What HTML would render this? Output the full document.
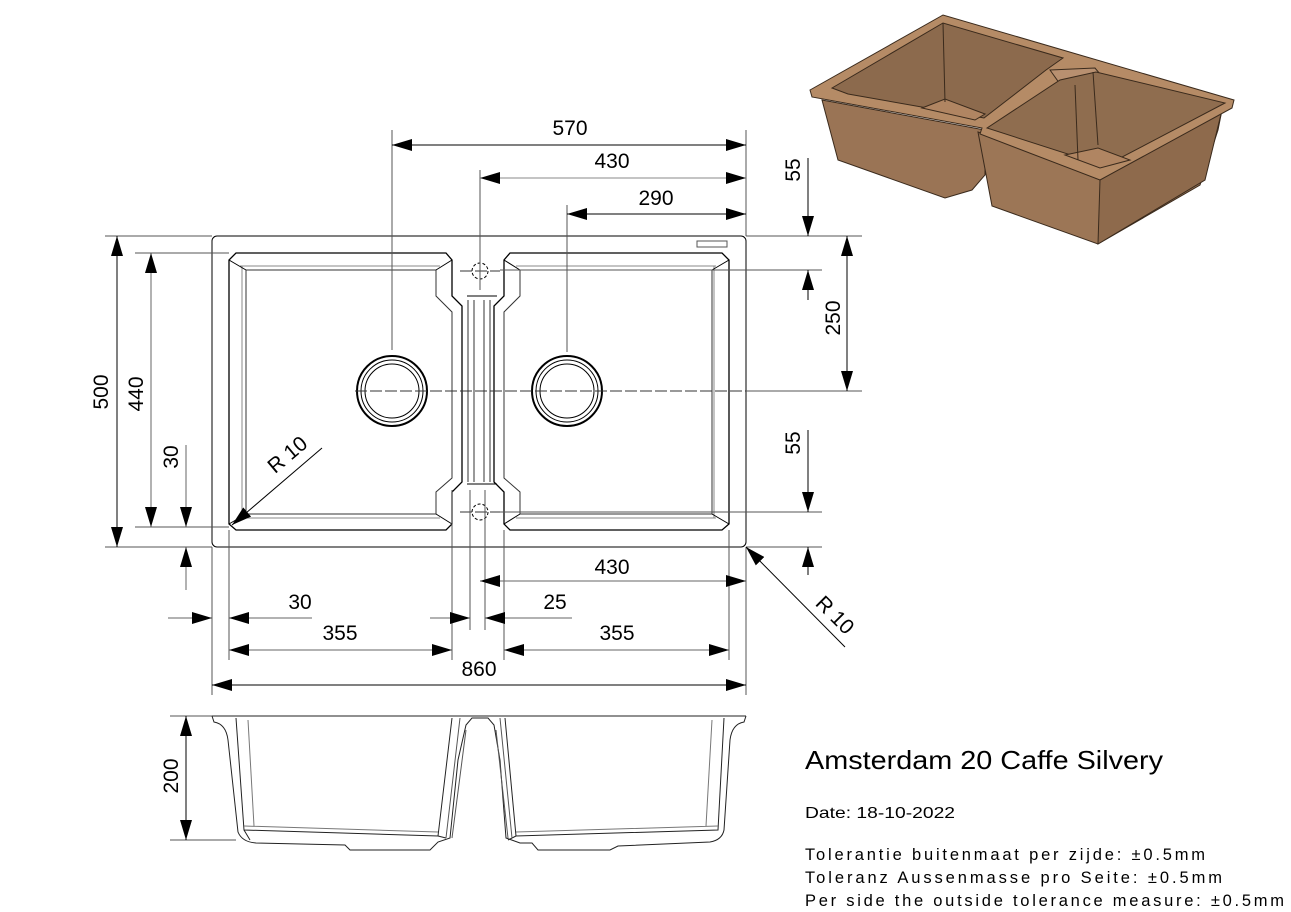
<!DOCTYPE html>
<html><head><meta charset="utf-8"><style>
html,body{margin:0;padding:0;background:#fff;}
svg{display:block;font-family:"Liberation Sans",Arial,sans-serif;}
</style></head><body>
<svg width="1291" height="912" viewBox="0 0 1291 912" xmlns="http://www.w3.org/2000/svg">
<defs>
<marker id="a" viewBox="0 0 20 12" refX="20" refY="6" markerWidth="20" markerHeight="12" markerUnits="userSpaceOnUse" orient="auto-start-reverse"><path d="M0,0 L20,6 L0,12 Z" fill="#000"/></marker>
</defs>
<g stroke="#000" stroke-width="1" fill="none">
<!-- ===== 3D image ===== -->
<g stroke="#3a2a1c" stroke-width="1">
<polygon points="822,100 985,130 985,175 972,190 945,198 838,160" fill="#9a7455"/>
<polygon points="978,132 1100,180 1222,110 1218,130 1200,185 1098,244 992,206" fill="#9c7656"/>
<polygon points="1100,180 1222,110 1205,180 1098,244" fill="#8e6a4c"/>
<polygon points="810,90 943,15 1234,100 1232,108 1100,180 980,134 982,128 812,97" fill="#b58b66"/>
<polygon points="832,88 943,23 1063,58 1046,70 984,118 848,94" fill="#8c6a4d"/>
<polygon points="922,108 945,99 985,114 975,120" fill="#b08562"/>
<polygon points="1050,70 1095,68 1100,74 1060,84" fill="#b89070"/>
<polygon points="987,128 1060,80 1096,72 1225,103 1105,166" fill="#8f6d4f"/>
<polygon points="1065,155 1098,148 1130,160 1100,168" fill="#b08562"/>
<line x1="1075" y1="85" x2="1078" y2="160"/>
<line x1="1093" y1="72" x2="1098" y2="145"/>
<line x1="943" y1="23" x2="945" y2="102"/>
</g>

<!-- ===== plan view ===== -->
<rect x="212" y="236" width="534" height="311" rx="5"/>
<rect x="697" y="241" width="30" height="6" stroke="#555"/>
<path d="M236,253 H446 L452,260 V296 L462,306 V482 L452,492 V524 L446,530 H236 L229,524 V260 Z" stroke-width="1.3"/>
<path d="M246,270 H436 V296 L452,312 V478 L436,492 V514 H246 Z" stroke="#333"/>
<path d="M240,266 H440 M240,518 H440 M242,266 V518" stroke="#888"/>
<path d="M229,260 L246,270 M452,260 L436,270 M229,524 L246,514 M452,524 L436,514" />
<path d="M510,253 H722 L729,260 V524 L722,530 H510 L504,524 V492 L494,482 V306 L504,296 V260 Z" stroke-width="1.3"/>
<path d="M520,270 H712 V514 H520 V492 L504,478 V312 L520,296 Z" stroke="#333"/>
<path d="M516,266 H716 M516,518 H716 M714,266 V518" stroke="#888"/>
<path d="M504,260 L520,270 M729,260 L712,270 M504,524 L520,514 M729,524 L712,514"/>
<path d="M467,296 H497 M467,484 H497"/>
<path d="M468,300 V482 M474,300 V482 M484,300 V482 M490,300 V482" stroke="#333"/>
<circle cx="392" cy="391" r="35" stroke-width="2"/><circle cx="392" cy="391" r="31"/><circle cx="392" cy="391" r="27"/>
<circle cx="567" cy="391" r="35" stroke-width="2"/><circle cx="567" cy="391" r="31"/><circle cx="567" cy="391" r="27"/>
<circle cx="480" cy="271" r="8" stroke-dasharray="3,2"/><circle cx="480" cy="512" r="8" stroke-dasharray="3,2"/>
<path d="M355,391 H860 M480,255 V290 M460,271 H500 M460,512 H500" stroke="#333" stroke-dasharray="12,3"/>

<g stroke="#555">
<path d="M392,130 V350 M480,170 V290 M567,205 V352 M746,130 V236"/>
<path d="M746,236 H862 M500,270 H822 M746,391 H862 M500,512 H822 M746,547 H822"/>
<path d="M105,236 H212 M135,253 H229 M135,527 H229 M105,547 H212"/>
<path d="M212,547 V695 M229,530 V660 M452,490 V660 M470,490 V630 M485,490 V630 M504,530 V660 M729,530 V660 M746,547 V695"/>
<path d="M170,716 H212 M170,840 H236"/>
</g>
<line x1="392" y1="145" x2="746" y2="145" marker-start="url(#a)" marker-end="url(#a)"/>
<line x1="480" y1="178" x2="746" y2="178" marker-start="url(#a)" marker-end="url(#a)" stroke="#888"/>
<line x1="567" y1="214" x2="746" y2="214" marker-start="url(#a)" marker-end="url(#a)"/>
<line x1="808" y1="158" x2="808" y2="236" marker-end="url(#a)"/>
<line x1="808" y1="300" x2="808" y2="270" marker-end="url(#a)"/>
<line x1="847" y1="236" x2="847" y2="391" marker-start="url(#a)" marker-end="url(#a)"/>
<line x1="808" y1="430" x2="808" y2="512" marker-end="url(#a)"/>
<line x1="808" y1="575" x2="808" y2="547" marker-end="url(#a)"/>
<line x1="117" y1="236" x2="117" y2="547" marker-start="url(#a)" marker-end="url(#a)"/>
<line x1="151" y1="253" x2="151" y2="527" marker-start="url(#a)" marker-end="url(#a)" stroke="#666"/>
<line x1="186" y1="445" x2="186" y2="527" marker-end="url(#a)" stroke="#666"/>
<line x1="186" y1="590" x2="186" y2="547" marker-end="url(#a)" stroke="#666"/>
<line x1="186" y1="716" x2="186" y2="840" marker-start="url(#a)" marker-end="url(#a)"/>
<line x1="480" y1="581" x2="746" y2="581" marker-start="url(#a)" marker-end="url(#a)" stroke="#666"/>
<line x1="168" y1="618" x2="212" y2="618" marker-end="url(#a)" stroke="#666"/>
<line x1="312" y1="618" x2="229" y2="618" marker-end="url(#a)" stroke="#666"/>
<line x1="430" y1="618" x2="470" y2="618" marker-end="url(#a)" stroke="#666"/>
<line x1="572" y1="618" x2="485" y2="618" marker-end="url(#a)" stroke="#666"/>
<line x1="229" y1="650" x2="452" y2="650" marker-start="url(#a)" marker-end="url(#a)" stroke="#666"/>
<line x1="504" y1="650" x2="729" y2="650" marker-start="url(#a)" marker-end="url(#a)" stroke="#666"/>
<line x1="212" y1="685" x2="746" y2="685" marker-start="url(#a)" marker-end="url(#a)"/>
<line x1="322" y1="448" x2="232" y2="525" marker-end="url(#a)"/>
<line x1="845" y1="647" x2="746" y2="547" marker-end="url(#a)"/>

<!-- ===== side view ===== -->
<g stroke="#222">
<path d="M212,716 H746"/>
<path d="M212,716 L214,722 Q226,724 228,740 L238,832 Q242,842 256,843 L345,845 L350,850 H430 L438,842 L450,838 L458,760 L466,725 L472,718 H488 L494,725 L500,760 L506,838 L520,843 H532 L538,850 H610 L618,846 L710,842 Q722,840 724,830 L730,740 Q732,724 744,722 L746,716"/>
<path d="M236,718 L244,830 L438,836 L452,718 M505,718 L516,836 L718,830 L724,718"/>
<path d="M244,830 L250,840 M438,836 L446,838 M516,836 L508,840"/>
<path d="M460,718 L446,838 M466,730 L452,838 M496,730 L508,838 M500,718 L512,838" stroke="#555"/>
<path d="M244,826 L438,832 M516,832 L718,826 M248,720 L254,826 M712,720 L706,826" stroke="#777"/>
</g>
</g>

<g font-size="21" fill="#000" text-anchor="middle">
<text x="570" y="135">570</text>
<text x="612" y="168">430</text>
<text x="656" y="205">290</text>
<text x="612" y="574">430</text>
<text x="300" y="609">30</text>
<text x="555" y="609">25</text>
<text x="340" y="640">355</text>
<text x="617" y="640">355</text>
<text x="479" y="676">860</text>
<text transform="translate(800,170) rotate(-90)">55</text>
<text transform="translate(800,443) rotate(-90)">55</text>
<text transform="translate(840,318) rotate(-90)">250</text>
<text transform="translate(108,392) rotate(-90)">500</text>
<text transform="translate(143,394) rotate(-90)">440</text>
<text transform="translate(178,457) rotate(-90)">30</text>
<text transform="translate(178,776) rotate(-90)">200</text>
<text transform="translate(292,460) rotate(-40)">R 10</text>
<text transform="translate(830,620) rotate(45)">R 10</text>
</g>
<g fill="#000">
<text x="805" y="769" font-size="26" textLength="358" lengthAdjust="spacingAndGlyphs">Amsterdam 20 Caffe Silvery</text>
<text x="805" y="818" font-size="16" textLength="150" lengthAdjust="spacingAndGlyphs">Date: 18-10-2022</text>
<text x="805" y="860" font-size="16.5" textLength="400" lengthAdjust="spacing">Tolerantie buitenmaat per zijde: ±0.5mm</text>
<text x="805" y="883" font-size="16.5" textLength="417" lengthAdjust="spacing">Toleranz Aussenmasse pro Seite: ±0.5mm</text>
<text x="805" y="906" font-size="16.5" textLength="479" lengthAdjust="spacing">Per side the outside tolerance measure: ±0.5mm</text>
</g>
</svg>
</body></html>
